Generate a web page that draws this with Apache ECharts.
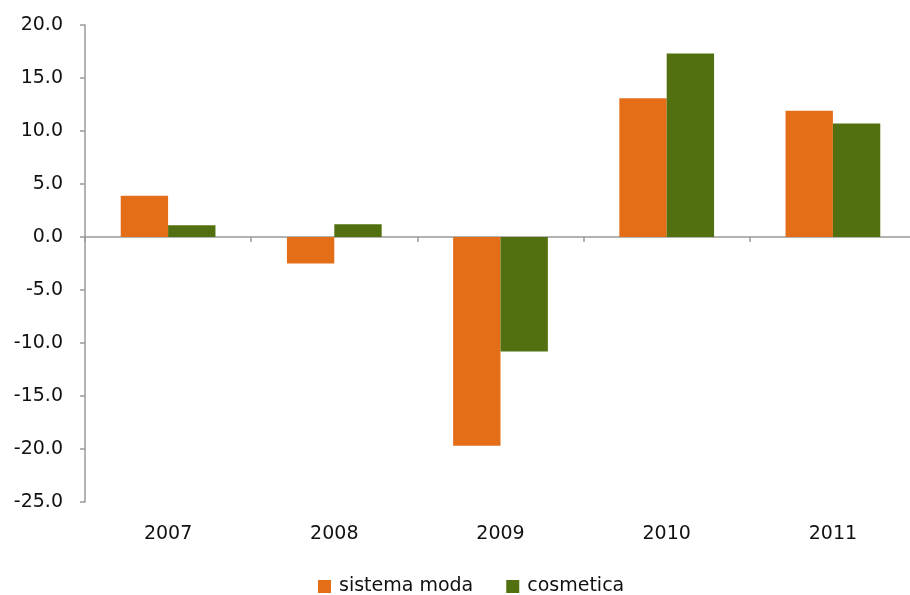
<!DOCTYPE html>
<html>
<head>
<meta charset="utf-8">
<script src="https://cdn.jsdelivr.net/npm/echarts@6/dist/echarts.min.js"></script>
<style>
  html, body { margin: 0; padding: 0; background: #fff; }
  #chart { width: 910px; height: 595px; }
</style>
</head>
<body>
<div id="chart"></div>
<script>
// Annual change by sector, 2007-2011
const years = ['2007', '2008', '2009', '2010', '2011'];
const sistemaModa = [3.9, -2.5, -19.7, 13.1, 11.9];
const cosmetica = [1.1, 1.2, -10.8, 17.3, 10.7];
const seriesNames = ['sistema moda', 'cosmetica'];

const FONT = 'DejaVu Sans';
const FONT_SIZE = 19;
const axisGray = '#9a9a9a';

const chart = echarts.init(document.getElementById('chart'), null, { renderer: 'canvas' });
chart.setOption({
  animation: false,
  textStyle: { fontFamily: FONT },
  // plot area runs slightly past the right edge of the canvas
  grid: { left: 85, width: 831, top: 25, height: 477, containLabel: false, outerBoundsMode: 'none' },
  legend: {
    bottom: -1,
    left: 318,
    padding: 0,
    itemWidth: 13,
    itemHeight: 13,
    itemGap: 33,
    icon: 'rect',
    textStyle: { fontFamily: FONT, fontSize: FONT_SIZE, color: '#111', padding: [0, 0, 0, 3] },
    data: seriesNames
  },
  xAxis: [
    {
      type: 'category',
      data: years,
      position: 'bottom',
      axisLine: { show: false, onZero: false },
      axisTick: { show: false },
      axisLabel: { fontFamily: FONT, fontSize: FONT_SIZE, color: '#111', margin: 23 }
    },
    {
      type: 'category',
      data: years,
      position: 'bottom',
      axisLine: { show: true, onZero: true, lineStyle: { color: axisGray, width: 1.5 } },
      axisTick: { show: true, length: 5, lineStyle: { color: axisGray, width: 1.5 } },
      axisLabel: { show: false }
    }
  ],
  yAxis: {
    type: 'value',
    min: -25,
    max: 20,
    interval: 5,
    splitLine: { show: false },
    axisLine: { show: true, lineStyle: { color: axisGray, width: 1.5 } },
    axisTick: { show: true, length: 5, lineStyle: { color: axisGray, width: 1.5 } },
    axisLabel: {
      fontFamily: FONT, fontSize: FONT_SIZE, color: '#111', margin: 22,
      formatter: v => v.toFixed(1)
    }
  },
  series: [
    {
      name: seriesNames[0],
      type: 'bar',
      xAxisIndex: 0,
      data: sistemaModa,
      barGap: '0%',
      barCategoryGap: '43%',
      itemStyle: { color: '#E46D18' }
    },
    {
      name: seriesNames[1],
      type: 'bar',
      xAxisIndex: 0,
      data: cosmetica,
      barGap: '0%',
      barCategoryGap: '43%',
      itemStyle: { color: '#52700F' }
    }
  ]
});
</script>
</body>
</html>
